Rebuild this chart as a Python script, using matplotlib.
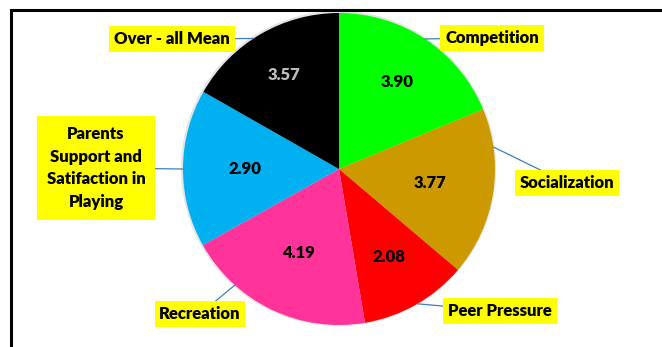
import matplotlib
matplotlib.use("Agg")
import matplotlib.pyplot as plt
from matplotlib.patches import Rectangle, Circle
import numpy as np

categories = ["Competition", "Socialization", "Peer Pressure", "Recreation",
              "Parents\nSupport and\nSatifaction in\nPlaying", "Over - all Mean"]
# slice sizes (degrees of arc)
slice_sizes = [67.5, 62.8, 40.1, 70.4, 58.85, 60.35]
value_labels = ["3.90", "3.77", "2.08", "4.19", "2.90", "3.57"]
colors = ["#00FF00", "#CC9900", "#FF0000", "#FF3399", "#00B0F0", "#000000"]
value_text_colors = ["black", "black", "black", "black", "black", "#BFBFBF"]

W, H = 662, 347
fig = plt.figure(figsize=(W / 100, H / 100), dpi=100)
ax = fig.add_axes([0, 0, 1, 1])

cx, cy, R = 339, H - 169, 156
# soft edge halo like the original
ax.add_patch(Circle((cx - 0.5, cy + 0.5), R + 1.6, fc="#E4E4E4", ec="none", zorder=0))
wedges, _ = ax.pie(slice_sizes, colors=colors, startangle=90, counterclock=False,
                   center=(cx, cy), radius=R,
                   wedgeprops=dict(linewidth=0))
ax.set_xlim(0, W)
ax.set_ylim(0, H)
ax.set_aspect("equal")
ax.axis("off")

font = ["Lato", "DejaVu Sans"]
fs = 12

# value labels inside slices (radial distance as fraction of radius)
label_dist = [0.67, 0.59, 0.65, 0.60, 0.60, 0.70]
for w, txt, tc, d in zip(wedges, value_labels, value_text_colors, label_dist):
    mid = np.deg2rad((w.theta1 + w.theta2) / 2)
    ax.text(cx + d * R * np.cos(mid), cy + d * R * np.sin(mid), txt,
            ha="center", va="center", fontsize=fs, fontweight="heavy",
            color=tc, family=font)

# category label boxes (pixel centers, y from top) and leader attach angles
box_centers = [(492, 38), (567, 183), (500, 311), (200, 314), (96, 168), (172, 39)]
attach_angles = [56.5, 8.1, -59.8, -131.9, 180.0, 123.2]
box_pads = [0.28, 0.28, 0.28, 0.28, 0.6, 0.28]
for lab, (bx, by), ang, pad in zip(categories, box_centers, attach_angles, box_pads):
    a = np.deg2rad(ang)
    ex, ey = cx + R * np.cos(a), cy + R * np.sin(a)
    ax.annotate(lab, xy=(ex, ey), xytext=(bx, H - by),
                ha="center", va="center", fontsize=fs, fontweight="heavy",
                family=font, linespacing=1.5,
                bbox=dict(boxstyle=f"square,pad={pad}", fc="#FFFF00", ec="none"),
                arrowprops=dict(arrowstyle="-", color="#3C7FC0", lw=0.9,
                                shrinkA=0, shrinkB=0))

# chart frame
ax.add_patch(Rectangle((11, -30), 720, H - 10 + 30, fill=False, ec="black",
                       lw=2.2, clip_on=False))

fig.savefig("out.png", dpi=100)
